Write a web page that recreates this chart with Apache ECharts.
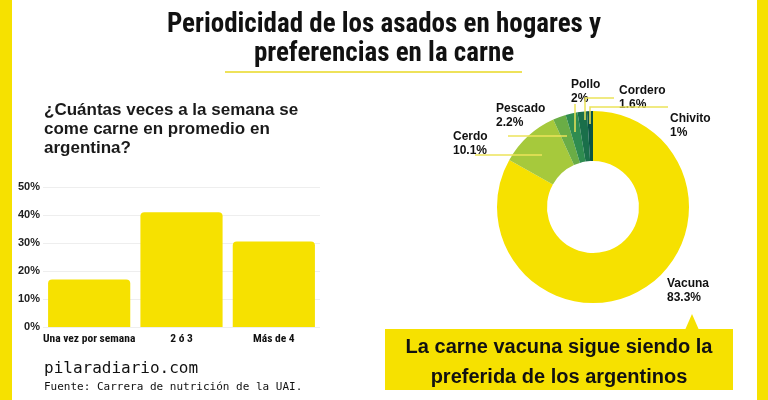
<!DOCTYPE html>
<html>
<head>
<meta charset="utf-8">
<script src="https://cdn.jsdelivr.net/npm/echarts@6/dist/echarts.min.js"></script>
<style>
  html, body { margin: 0; padding: 0; background: #ffffff; }
  #chart { width: 768px; height: 400px; }
</style>
</head>
<body>
<div id="chart"></div>
<script>
// frecuencia semanal de consumo
var frecuencias = ['Una vez por semana', '2 ó 3', 'Más de 4'];
var porcentajes = [17, 41, 30.5];
var ticksEje = [0, 10, 20, 30, 40, 50];

// preferencias de carne
var carnes = ['Vacuna', 'Cerdo', 'Pescado', 'Pollo', 'Cordero', 'Chivito'];
var preferencias = [83.3, 10.1, 2.2, 2, 1.6, 1];

// colores y posicion de etiquetas (solo estilo)
var AMARILLO = '#f6e100';
var verdes = [AMARILLO, '#a6c93c', '#6aad46', '#2f8c50', '#1a6f4a', '#0c5543'];
var etiquetasXY = [[667, 277], [453, 130], [496, 102], [571, 78], [619, 84], [670, 112]];
// guias amarillas que entran en la rosca (decoracion)
var guias = [
  [[475, 155], [542, 155]],
  [[508, 136], [567, 136]],
  [[575, 104], [575, 132]],
  [[614, 98], [585, 98], [585, 120]],
  [[668, 107], [590, 107], [590, 124]]
];

var condensada = "'Roboto Condensed', 'Liberation Sans Narrow', 'DejaVu Sans Condensed', 'Liberation Sans', sans-serif";
var sans = "'Liberation Sans', Arial, sans-serif";
var mono = "'DejaVu Sans Mono', 'Liberation Mono', monospace";

var chart = echarts.init(document.getElementById('chart'));

var decoracion = [
  { type: 'rect', shape: { x: 0, y: 0, width: 12, height: 400 }, style: { fill: AMARILLO }, silent: true },
  { type: 'rect', shape: { x: 757, y: 0, width: 11, height: 400 }, style: { fill: AMARILLO }, silent: true },
  { type: 'rect', shape: { x: 225, y: 71, width: 297, height: 2 }, style: { fill: '#eee25a' }, silent: true },
  { type: 'rect', shape: { x: 385, y: 329, width: 348, height: 61 }, style: { fill: AMARILLO }, silent: true },
  { type: 'polygon', shape: { points: [[685, 330], [692, 314], [699, 330]] }, style: { fill: AMARILLO }, silent: true },
  {
    type: 'text',
    x: 559, y: 362,
    style: {
      text: 'La carne vacuna sigue siendo la\npreferida de los argentinos',
      fontFamily: sans, fontWeight: 'bold', fontSize: 20, lineHeight: 30,
      fill: '#111', align: 'center', verticalAlign: 'middle'
    },
    silent: true
  }
];
guias.forEach(function (pts) {
  decoracion.push({
    type: 'polyline', z: 100, silent: true,
    shape: { points: pts },
    style: { stroke: '#ece35a', lineWidth: 1.5, fill: null }
  });
});

var option = {
  animation: false,
  backgroundColor: '#ffffff',
  title: [
    {
      text: 'Periodicidad de los asados en hogares y\npreferencias en la carne',
      left: 'center',
      top: 6,
      textStyle: { fontFamily: condensada, fontWeight: 'bold', fontSize: 27, lineHeight: 29, color: '#111' }
    },
    {
      text: '¿Cuántas veces a la semana se\ncome carne en promedio en\nargentina?',
      left: 39,
      top: 96,
      textStyle: { fontFamily: sans, fontWeight: 'bold', fontSize: 17, lineHeight: 19, color: '#1a1a1a' }
    },
    {
      text: 'pilaradiario.com',
      left: 39,
      top: 356,
      textStyle: { fontFamily: mono, fontWeight: 'normal', fontSize: 16, color: '#111' }
    },
    {
      text: 'Fuente: Carrera de nutrición de la UAI.',
      left: 39,
      top: 377,
      textStyle: { fontFamily: mono, fontWeight: 'normal', fontSize: 11, color: '#111' }
    }
  ],
  graphic: decoracion,
  grid: { left: 43, right: 448, top: 187, bottom: 73 },
  xAxis: {
    type: 'category',
    data: frecuencias,
    axisLine: { show: false },
    axisTick: { show: false },
    axisLabel: { fontFamily: condensada, fontWeight: 'bold', fontSize: 11.5, color: '#111', margin: 6, interval: 0 }
  },
  yAxis: {
    type: 'value',
    min: ticksEje[0],
    max: ticksEje[ticksEje.length - 1],
    interval: ticksEje[1] - ticksEje[0],
    axisLabel: { formatter: '{value}%', fontFamily: sans, fontWeight: 'bold', fontSize: 11, color: '#222', margin: 3 },
    splitLine: { lineStyle: { color: '#eeeeee', width: 1 } },
    axisLine: { show: false },
    axisTick: { show: false }
  },
  series: [
    {
      type: 'bar',
      data: porcentajes,
      barCategoryGap: '11%',
      itemStyle: { color: AMARILLO, borderRadius: [4, 4, 0, 0] }
    },
    {
      type: 'pie',
      center: [593, 207],
      radius: [46, 96],
      startAngle: 90,
      clockwise: true,
      data: carnes.map(function (n, i) {
        return { name: n, value: preferencias[i], itemStyle: { color: verdes[i] } };
      }),
      label: {
        show: true,
        position: 'outside',
        formatter: function (p) { return p.name + '\n' + p.value + '%'; },
        fontFamily: sans, fontWeight: 'bold', fontSize: 12, lineHeight: 13.5, color: '#111'
      },
      labelLine: { show: false },
      labelLayout: function (p) {
        var s = etiquetasXY[p.dataIndex];
        return { x: s[0], y: s[1], align: 'left', verticalAlign: 'top' };
      }
    }
  ]
};

chart.setOption(option);
</script>
</body>
</html>
